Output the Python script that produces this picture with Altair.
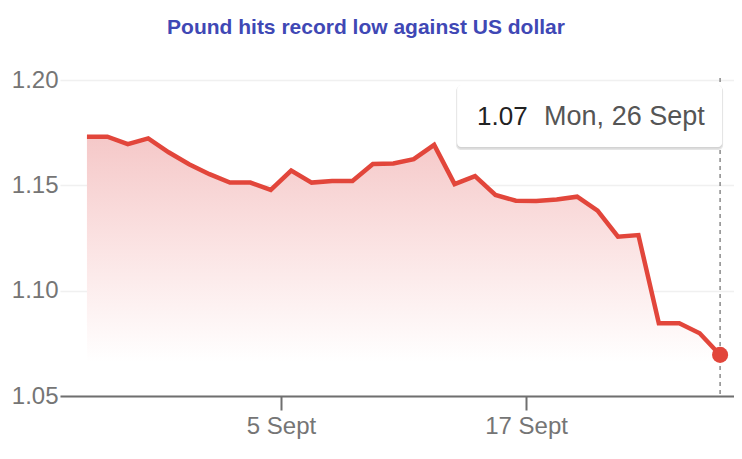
import pandas as pd
import altair as alt

# GBP/USD daily rate, 26 Aug - 26 Sep 2022
rates = [1.1731, 1.1731, 1.1696, 1.1723, 1.1657, 1.1600, 1.1553, 1.1513,
         1.1513, 1.1478, 1.1570, 1.1513, 1.1521, 1.1521, 1.1601, 1.1604,
         1.1624, 1.1692, 1.1506, 1.1544, 1.1454, 1.1427, 1.1426, 1.1433,
         1.1446, 1.1380, 1.1256, 1.1264, 1.0845, 1.0845, 1.0798, 1.0695]
dates = pd.date_range("2022-08-26 12:00", periods=len(rates), freq="D")
y_ticks = [1.05, 1.10, 1.15, 1.20]
area_floor = 1.066

df = pd.DataFrame({"date": dates, "rate": rates})
last = df.tail(1)

red = "#e2463b"
grey = "#757575"
font = "Liberation Sans"

x_enc = alt.X(
    "date:T",
    title=None,
    scale=alt.Scale(domain=[alt.DateTime(year=2022, month=8, date=25, hours=4, minutes=20),
                            alt.DateTime(year=2022, month=9, date=27, hours=4, minutes=20)]),
    axis=alt.Axis(
        values=[alt.DateTime(year=2022, month=9, date=5),
                alt.DateTime(year=2022, month=9, date=17)],
        labelExpr="timeFormat(datum.value, '%-d') + ' Sept'",
        grid=False, domainColor="#6f6f6f", domainWidth=2,
        tickColor="#6f6f6f", tickWidth=2, tickSize=14,
        labelPadding=4, labelFontSize=24, labelColor=grey, labelFont=font,
    ),
)
y_enc = alt.Y(
    "rate:Q",
    title=None,
    scale=alt.Scale(domain=[1.05, 1.20], zero=False, nice=False),
    axis=alt.Axis(
        values=y_ticks, format=".2f", domain=False, ticks=False,
        labelPadding=2, labelFontSize=24, labelColor=grey, labelFont=font,
        gridColor="#f0f0f0", gridWidth=1.5,
    ),
)

base = alt.Chart(df)

area = base.mark_area(
    color=alt.Gradient(
        gradient="linear",
        stops=[alt.GradientStop(color="#f5c8c8", offset=0),
               alt.GradientStop(color="#fbe4e4", offset=0.5),
               alt.GradientStop(color="#ffffff", offset=1)],
        x1=1, x2=1, y1=0, y2=1,
    )
).encode(x=x_enc, y=y_enc, y2=alt.datum(area_floor))

line = base.mark_line(color=red, strokeWidth=4.5).encode(x="date:T", y="rate:Q")

tip = alt.Chart(last)

rule = tip.mark_rule(color="#8a8a8a", strokeWidth=1.5, strokeDash=[4, 4], yOffset=-2).encode(
    x="date:T", y=alt.datum(1.20), y2=alt.datum(1.05)
)

dot = tip.mark_circle(color=red, size=260, opacity=1).encode(x="date:T", y="rate:Q")

shadow1 = tip.mark_rect(color="#000000", opacity=0.10, cornerRadius=5,
                        xOffset=-264, x2Offset=3, yOffset=6, y2Offset=70).encode(
    x="date:T", x2="date:T", y=alt.datum(1.20), y2=alt.datum(1.20))
shadow2 = tip.mark_rect(color="#000000", opacity=0.08, cornerRadius=4,
                        xOffset=-263, x2Offset=2, yOffset=5, y2Offset=68.5).encode(
    x="date:T", x2="date:T", y=alt.datum(1.20), y2=alt.datum(1.20))
box = tip.mark_rect(color="#ffffff", opacity=1, cornerRadius=4,
                    xOffset=-263, x2Offset=2, yOffset=5, y2Offset=67).encode(
    x="date:T", x2="date:T", y=alt.datum(1.20), y2=alt.datum(1.20))

tip_value = tip.transform_calculate(
    label="format(datum.rate, '.2f')"
).mark_text(align="left", baseline="alphabetic", dx=-243, dy=45,
            fontSize=26, font=font, color="#222222").encode(
    x="date:T", y=alt.datum(1.20), text="label:N")

tip_date = tip.transform_calculate(
    label="timeFormat(datum.date, '%a, %-d') + ' Sept'"
).mark_text(align="left", baseline="alphabetic", dx=-176, dy=45,
            fontSize=27, font=font, color="#555555").encode(
    x="date:T", y=alt.datum(1.20), text="label:N")

chart = alt.layer(
    area, line, rule, dot, shadow1, shadow2, box, tip_value, tip_date
).properties(
    width=674,
    height=316,
    autosize=alt.AutoSizeParams(type="none"),
    padding={"left": 52, "top": 72, "right": 0, "bottom": 50},
    title=alt.TitleParams(
        "Pound hits record low against US dollar",
        font=font, fontSize=21, fontWeight="bold", color="#3f48b5",
        anchor="middle", dx=-31, offset=13, baseline="alphabetic",
    ),
).configure_view(stroke=None)

chart.save("out.html", embed_options={"renderer": "svg", "actions": False})
